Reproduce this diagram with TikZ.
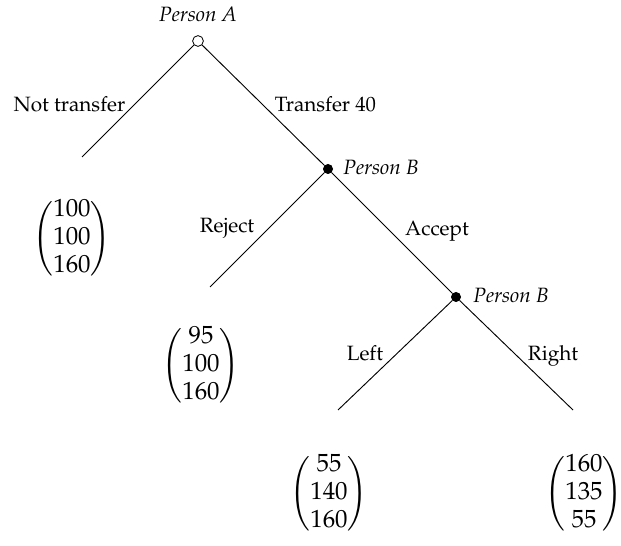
\documentclass[tikz,border=0pt]{standalone}
\usepackage[T1]{fontenc}
\usepackage{amsmath}
\usepackage{mathpazo}
\begin{document}
\begin{tikzpicture}[x=0.483pt,y=-0.483pt,
  hollow/.style={circle,draw,fill=white,inner sep=0pt,minimum size=5.2pt},
  solid/.style={circle,draw,fill=black,inner sep=0pt,minimum size=4.4pt},
  lbl/.style={inner sep=0pt,anchor=base},
  pay/.style={inner sep=0pt,font=\fontsize{12}{13.3}\selectfont},
  edge/.style={draw,line width=0.45pt}]
\useasboundingbox (0,0) rectangle (621,546);
\node[hollow] (A) at (198,41) {};
\node[solid] (B1) at (328,169) {};
\node[solid] (B2) at (456,297) {};
\coordinate (L1) at (82,157);
\coordinate (L2) at (210,287);
\coordinate (L3) at (338,410);
\coordinate (L4) at (573,410);
\path[edge] (A) -- (L1);
\path[edge] (A) -- (B1);
\path[edge] (B1) -- (L2);
\path[edge] (B1) -- (B2);
\path[edge] (B2) -- (L3);
\path[edge] (B2) -- (L4);
\node[lbl] (pA) at (198,22) {\textit{Person A}};
\node[lbl,anchor=base west] (pB1) at (343,175) {\textit{Person B}};
\node[lbl,anchor=base west] (pB2) at (473,303) {\textit{Person B}};
\node[lbl] (nt) at (69.5,112) {Not transfer};
\node[lbl] (tr) at (325.5,112) {Transfer 40};
\node[lbl] (rj) at (227,233) {Reject};
\node[lbl] (ac) at (437,236) {Accept};
\node[lbl] (lf) at (365,361) {Left};
\node[lbl] (rt) at (553,361) {Right};
\node[pay] (v1) at (72,239) {$\begin{pmatrix}100\\100\\160\end{pmatrix}$};
\node[pay] (v2) at (201,366) {$\begin{pmatrix}95\\100\\160\end{pmatrix}$};
\node[pay] (v3) at (329,494) {$\begin{pmatrix}55\\140\\160\end{pmatrix}$};
\node[pay] (v4) at (584,494) {$\begin{pmatrix}160\\135\\55\end{pmatrix}$};
\end{tikzpicture}
\end{document}
